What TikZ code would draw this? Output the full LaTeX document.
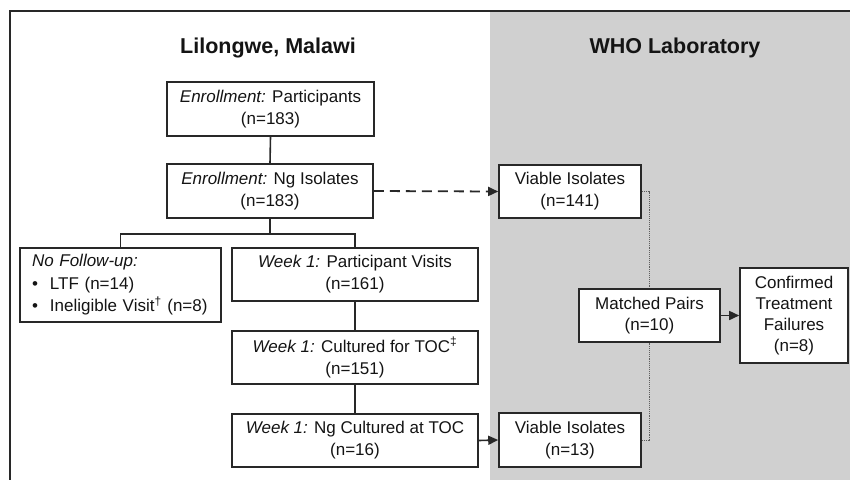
\documentclass[tikz,border=0pt]{standalone}
\usepackage{fontspec}
\setmainfont{Liberation Sans}
\usetikzlibrary{arrows.meta}
\definecolor{labgray}{RGB}{208,208,208}
\definecolor{edge}{RGB}{40,40,40}
\definecolor{ink}{RGB}{20,20,20}
\tikzset{
  box/.style={draw=edge, line width=1.6pt, fill=white, text=ink, align=center,
    inner sep=0pt, font=\fontsize{17}{22}\selectfont},
  conn/.style={draw=edge, line width=1.6pt},
  arr/.style={conn, -{Triangle[length=10pt,width=9pt]}},
  title/.style={text=ink, font=\fontsize{21.5}{24}\selectfont\bfseries},
}
\begin{document}
\begin{tikzpicture}[x=1pt,y=-1pt]
\useasboundingbox (0,0) rectangle (850,480);
\fill[labgray] (490,11) rectangle (850,480);
\draw[edge, line width=2.2pt] (850,11) -- (10,11) -- (10,480);

\node[title] (t1) at (268,48) {Lilongwe, Malawi};
\node[title] (t2) at (675,48) {WHO Laboratory};

\node[box, minimum width=207pt, minimum height=54pt] (ep) at (270.5,109)
  {\textit{Enrollment:} Participants\\(n=183)};
\node[box, minimum width=206pt, minimum height=54pt] (ng) at (270,191)
  {\textit{Enrollment:} Ng Isolates\\(n=183)};
\node[box, minimum width=201pt, minimum height=74pt, text width=177pt, align=left,
  font=\fontsize{17}{22.5}\selectfont] (nf) at (120.5,285)
  {\textit{No Follow-up:}\\
   \makebox[18pt][l]{\textbullet}LTF (n=14)\\
   \makebox[18pt][l]{\textbullet}Ineligible Visit\textsuperscript{\textdagger} (n=8)};
\node[box, minimum width=246pt, minimum height=53pt] (wv) at (355,274.5)
  {\textit{Week 1:} Participant Visits\\(n=161)};
\node[box, minimum width=246pt, minimum height=53pt] (ct) at (355,357.5)
  {\textit{Week 1:} Cultured for TOC\textsuperscript{\textdaggerdbl}\\(n=151)};
\node[box, minimum width=246pt, minimum height=53pt] (nc) at (355,440.5)
  {\textit{Week 1:} Ng Cultured at TOC\\(n=16)};
\node[box, minimum width=142pt, minimum height=53pt] (v1) at (570,191.5)
  {Viable Isolates\\(n=141)};
\node[box, minimum width=142pt, minimum height=54pt] (v2) at (570,440)
  {Viable Isolates\\(n=13)};
\node[box, minimum width=141pt, minimum height=53pt, font=\fontsize{17}{21}\selectfont] (mp) at (649.5,315.5)
  {Matched Pairs\\(n=10)};
\node[box, minimum width=108pt, minimum height=95pt, font=\fontsize{17}{21}\selectfont] (cf) at (794,315.5)
  {Confirmed\\Treatment\\Failures\\(n=8)};

\draw[conn] (ep.south) -- (ng.north);
\draw[conn] (ng.south) -- ++(0,15) coordinate (br);
\draw[conn] (nf.north) |- (br) -| (wv.north);
\draw[conn] (wv.south) -- (ct.north);
\draw[conn] (ct.south) -- (nc.north);
\draw[arr, line width=1.8pt, dash pattern=on 10pt off 6pt] (ng.east) -- (v1.west);
\draw[arr] (nc.east) -- (v2.west);
\draw[arr] (mp.east) -- (cf.west);
\draw[draw=edge!75, line width=0.9pt, densely dotted] (v1.east) -| (mp.north);
\draw[draw=edge!75, line width=0.9pt, densely dotted] (v2.east) -| (mp.south);
\end{tikzpicture}
\end{document}
